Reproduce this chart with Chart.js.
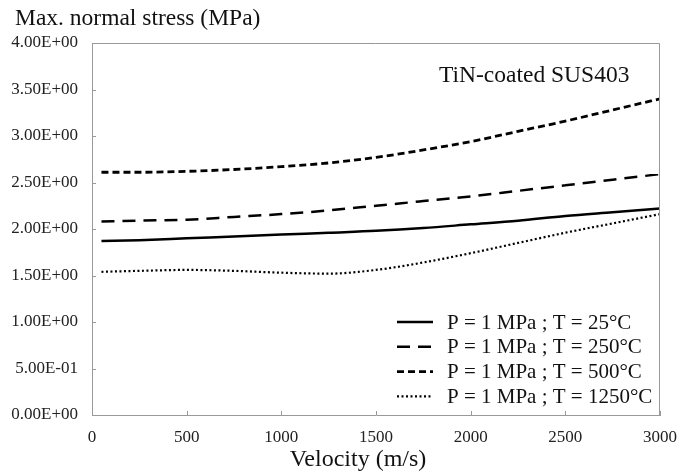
<!DOCTYPE html>
<html>
<head>
<meta charset="utf-8">
<script src="https://cdn.jsdelivr.net/npm/chart.js@4.4.1/dist/chart.umd.min.js"></script>
<style>
  html, body { margin: 0; padding: 0; background: #fff; }
  #wrap { width: 692px; height: 473px; }
</style>
</head>
<body>
<div id="wrap"><canvas id="c"></canvas></div>
<script>
// values
const velocity = [50, 250, 500, 750, 1000, 1250, 1500, 1750, 2000, 2250, 2500, 2750, 3000];
const stressT25 = [1.87, 1.88, 1.90, 1.92, 1.94, 1.96, 1.98, 2.01, 2.05, 2.09, 2.14, 2.18, 2.22];
const stressT250 = [2.08, 2.09, 2.10, 2.13, 2.16, 2.20, 2.25, 2.30, 2.35, 2.41, 2.47, 2.53, 2.59];
const stressT500 = [2.61, 2.61, 2.62, 2.64, 2.67, 2.71, 2.77, 2.85, 2.94, 3.05, 3.16, 3.28, 3.40];
const stressT1250 = [1.54, 1.55, 1.56, 1.55, 1.53, 1.52, 1.56, 1.64, 1.74, 1.85, 1.96, 2.06, 2.16];
const seriesNames = ['P = 1 MPa ; T = 25°C', 'P = 1 MPa ; T = 250°C', 'P = 1 MPa ; T = 500°C', 'P = 1 MPa ; T = 1250°C'];
const xTicks = [0, 500, 1000, 1500, 2000, 2500, 3000];
const yTicks = [0, 0.5, 1, 1.5, 2, 2.5, 3, 3.5, 4];

const serif = '"Liberation Serif", "DejaVu Serif", serif';

function sci(v) {
  let parts = v.toExponential(2).split('e');
  let exp = parts[1];
  return parts[0] + 'E' + exp[0] + exp.slice(1).padStart(2, '0');
}

function pts(ys) {
  return velocity.map((v, i) => ({ x: v, y: ys[i] }));
}

const dashes = [[], [13, 8], [7, 4], [2, 2.5]];
const widths = [2.5, 2.5, 2.8, 2.2];

const extras = {
  id: 'extras',
  afterDraw(chart) {
    const ctx = chart.ctx;
    const a = chart.chartArea;
    const xs = chart.scales.x, ys = chart.scales.y;
    ctx.save();
    // frame
    ctx.strokeStyle = '#999';
    ctx.lineWidth = 1;
    ctx.beginPath();
    ctx.moveTo(a.left, a.top + 0.5);
    ctx.lineTo(a.right - 0.5, a.top + 0.5);
    ctx.lineTo(a.right - 0.5, a.bottom);
    ctx.stroke();
    // inner tick marks
    ctx.beginPath();
    xTicks.forEach(t => {
      const px = Math.round(xs.getPixelForValue(t)) + 0.5;
      ctx.moveTo(px, a.bottom);
      ctx.lineTo(px, a.bottom - 4);
    });
    yTicks.forEach(t => {
      const py = Math.round(ys.getPixelForValue(t)) + 0.5;
      ctx.moveTo(a.left, py);
      ctx.lineTo(a.left + 4, py);
    });
    ctx.stroke();

    // titles
    ctx.fillStyle = '#111';
    ctx.textBaseline = 'middle';
    ctx.font = '23.5px ' + serif;
    ctx.textAlign = 'left';
    ctx.fillText('Max. normal stress (MPa)', 15, 19);
    ctx.textAlign = 'center';
    ctx.font = '24px ' + serif;
    ctx.fillText('Velocity (m/s)', 358, 460);
    ctx.textAlign = 'left';
    ctx.font = '23.5px ' + serif;
    ctx.fillText('TiN-coated SUS403', 439, 76);

    // legend
    ctx.font = '21px ' + serif;
    chart.data.datasets.forEach((ds, i) => {
      const y = 322 + i * 24.8;
      ctx.strokeStyle = ds.borderColor;
      ctx.lineWidth = ds.borderWidth;
      ctx.setLineDash(ds.borderDash);
      ctx.beginPath();
      ctx.moveTo(397, y);
      ctx.lineTo(433, y);
      ctx.stroke();
      ctx.setLineDash([]);
      ctx.fillStyle = '#111';
      ctx.fillText(ds.label, 447, y + 1);
    });
    ctx.restore();
  }
};

new Chart(document.getElementById('c'), {
  type: 'line',
  data: {
    datasets: [stressT25, stressT250, stressT500, stressT1250].map((s, i) => ({
      label: seriesNames[i],
      data: pts(s),
      borderColor: '#000',
      borderWidth: widths[i],
      borderDash: dashes[i],
      pointRadius: 0,
      fill: false,
      cubicInterpolationMode: 'monotone'
    }))
  },
  options: {
    responsive: true,
    maintainAspectRatio: false,
    animation: false,
    layout: { padding: { left: 0, right: 32, top: 43, bottom: 0 } },
    plugins: { legend: { display: false }, tooltip: { enabled: false } },
    scales: {
      x: {
        type: 'linear',
        min: 0, max: 3000,
        afterFit(s) { s.height = 58; },
        afterBuildTicks(s) { s.ticks = xTicks.map(v => ({ value: v })); },
        grid: { display: false, drawTicks: false },
        border: { display: true, color: '#999', width: 1 },
        ticks: { padding: 12, color: '#222', font: { family: serif, size: 17 }, maxRotation: 0, callback: v => String(v) }
      },
      y: {
        min: 0, max: 4,
        afterFit(s) { s.width = 92; },
        afterBuildTicks(s) { s.ticks = yTicks.map(v => ({ value: v })); },
        grid: { display: false, drawTicks: false },
        border: { display: true, color: '#999', width: 1 },
        ticks: { padding: 14, color: '#222', font: { family: serif, size: 17 }, callback: v => sci(v) }
      }
    }
  },
  plugins: [extras]
});
</script>
</body>
</html>
